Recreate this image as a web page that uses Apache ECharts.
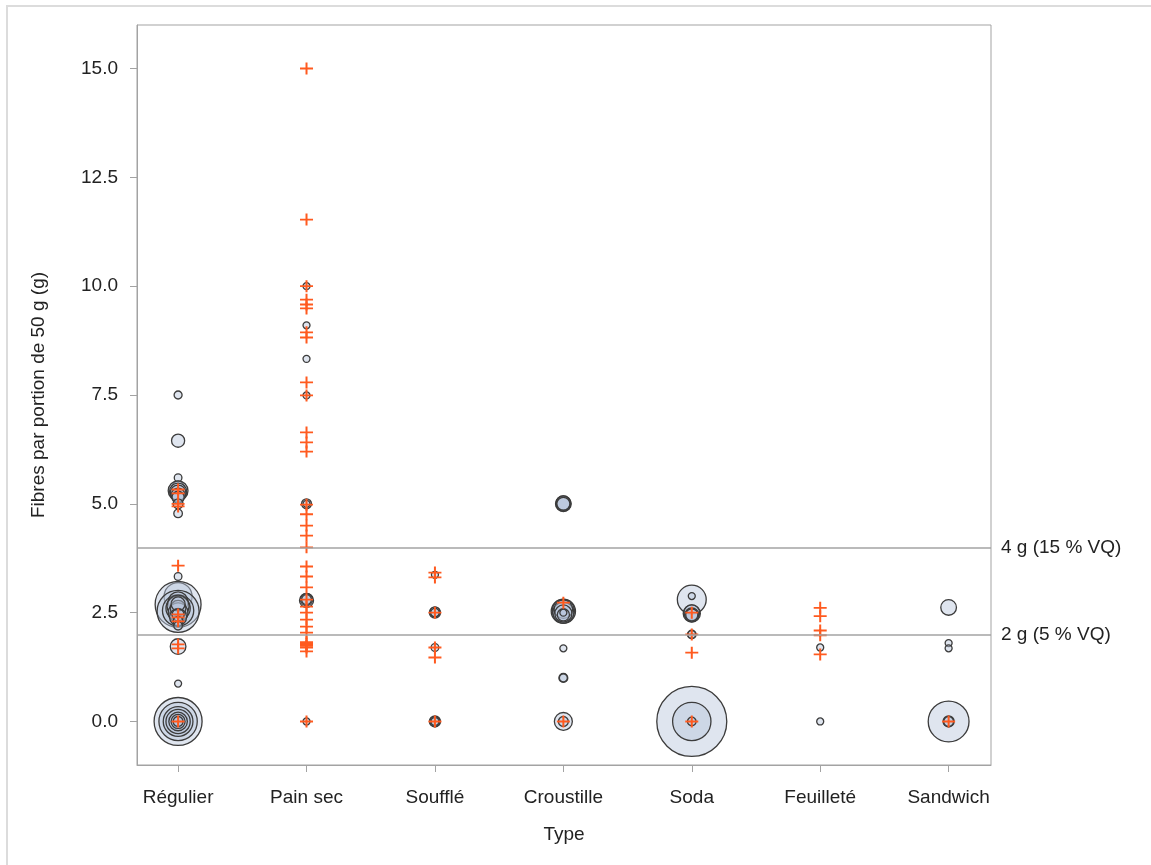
<!DOCTYPE html>
<html>
<head>
<meta charset="utf-8">
<script src="https://cdn.jsdelivr.net/npm/echarts@6/dist/echarts.min.js"></script>
<style>
  html, body { margin: 0; padding: 0; background: #fff; }
  #frame { position: absolute; left: 6px; top: 5px; width: 1160px; height: 880px;
           border-top: 2px solid #dcdcdc; border-left: 2px solid #dcdcdc; }
  #chart { position: absolute; left: 0; top: 0; width: 1151px; height: 865px; }
</style>
</head>
<body>
<div id="frame"></div>
<div id="chart"></div>
<script>
// catégories et graduations
const categories = ["Régulier", "Pain sec", "Soufflé", "Croustille", "Soda", "Feuilleté", "Sandwich"];
const yTicks = [0, 2.5, 5, 7.5, 10, 12.5, 15];
const refLines = [4, 2];
const refLabels = ["4 g (15 % VQ)", "2 g (5 % VQ)"];

// bulles : [fibres, nombre de produits]
const bullesRegulier = [[7.5, 1.3], [6.45, 3.5], [5.6, 1.2], [5.38, 3], [5.3, 8], [5.28, 6], [5.25, 5], [5.2, 4],
  [5.15, 3], [5.0, 2], [4.78, 1.5], [3.33, 1.2], [2.87, 16], [2.69, 43], [2.53, 36], [2.55, 20], [2.75, 8],
  [2.6, 12], [2.65, 10], [2.5, 8], [2.6, 5], [2.4, 6], [2.7, 4], [2.45, 3], [2.3, 2], [2.2, 1.5], [1.72, 5],
  [0.87, 1], [0, 47], [0, 30], [0, 18], [0, 12], [0, 7], [0, 4], [0, 2]];
const bullesPainSec = [[10, 1], [9.1, 1], [8.33, 1], [7.49, 1], [5.0, 2], [5.0, 1], [2.78, 4], [2.8, 3], [2.8, 2], [0, 1]];
const bullesSouffle = [[3.37, 1], [2.5, 2.5], [2.52, 2], [2.5, 1.5], [1.7, 1.2], [0, 2.5], [0, 2], [0, 1.2]];
const bullesCroustille = [[5.0, 5], [5.0, 4.5], [5.02, 4], [5.0, 3.5], [2.53, 12], [2.55, 10], [2.5, 9], [2.58, 7],
  [2.48, 6], [2.45, 3], [2.5, 1], [1.68, 1], [1.0, 1.6], [1.0, 1.3], [0, 6.6], [0, 2]];
const bullesSoda = [[2.8, 17], [2.88, 1], [2.48, 6], [2.5, 5], [2.45, 4], [2.45, 3], [2.0, 1.5], [2.0, 1.2],
  [0, 100], [0, 30], [0, 1.5]];
const bullesFeuillete = [[1.7, 1], [0, 1]];
const bullesSandwich = [[2.62, 5], [1.8, 1], [1.68, 1], [0, 34], [0, 2.5], [0, 2]];

// croix : fibres par produit
const croixRegulier = [5.33, 5.24, 5.0, 4.94, 3.58, 2.46, 2.39, 2.3, 1.77, 1.68, 0];
const croixPainSec = [15, 11.53, 10, 9.69, 9.58, 9.49, 8.94, 8.82, 7.79, 7.49, 6.64, 6.41, 6.2, 4.98, 4.76, 4.5,
  4.27, 4.0, 3.56, 3.33, 3.08, 2.8, 2.64, 2.5, 2.34, 2.18, 2.04, 1.82, 1.78, 1.74, 1.7, 1.61, 0];
const croixSouffle = [3.42, 3.31, 2.5, 1.7, 1.47, 0];
const croixCroustille = [2.73, 0];
const croixSoda = [2.5, 2.0, 1.58, 0];
const croixFeuillete = [2.61, 2.42, 2.09, 1.98, 1.54];
const croixSandwich = [0];

const bulles = [bullesRegulier, bullesPainSec, bullesSouffle, bullesCroustille, bullesSoda, bullesFeuillete, bullesSandwich];
const croix = [croixRegulier, croixPainSec, croixSouffle, croixCroustille, croixSoda, croixFeuillete, croixSandwich];

const bubbleData = [];
bulles.forEach((list, i) => list.forEach(([y, n]) => bubbleData.push([i, y, n])));
const plusData = [];
croix.forEach((list, i) => list.forEach((y) => plusData.push([i, y])));

const FONT = "'Liberation Sans', Arial, sans-serif";
const TXT = "#222";
const GRAY = "#a3a3a3";

const chart = echarts.init(document.getElementById("chart"));
chart.setOption({
  animation: false,
  textStyle: { fontFamily: FONT },
  grid: { left: 137, right: 160, top: 25, bottom: 100, show: true, borderColor: GRAY, borderWidth: 1 },
  xAxis: {
    type: "value", min: -0.32, max: 6.33,
    name: "Type", nameLocation: "middle", nameGap: 60,
    nameTextStyle: { color: TXT, fontSize: 19, fontFamily: FONT },
    axisLine: { show: true, onZero: false, lineStyle: { color: GRAY } },
    axisTick: { show: true, length: 7, lineStyle: { color: GRAY }, customValues: [0, 1, 2, 3, 4, 5, 6] },
    axisLabel: { color: TXT, fontSize: 19, margin: 23, customValues: [0, 1, 2, 3, 4, 5, 6],
      formatter: (v) => categories[Math.round(v)] },
    splitLine: { show: false }
  },
  yAxis: {
    type: "value", min: -1, max: 16,
    name: "Fibres par portion de 50 g (g)", nameLocation: "middle", nameGap: 89,
    nameTextStyle: { color: TXT, fontSize: 19, fontFamily: FONT },
    axisLine: { show: true, onZero: false, lineStyle: { color: GRAY } },
    axisTick: { show: true, length: 7, lineStyle: { color: GRAY }, customValues: yTicks },
    axisLabel: { color: TXT, fontSize: 19, margin: 19, customValues: yTicks, formatter: (v) => v.toFixed(1) },
    splitLine: { show: false }
  },
  series: [
    {
      type: "scatter",
      data: bubbleData,
      symbol: "circle",
      symbolSize: (d) => 7 * Math.sqrt(d[2]),
      itemStyle: { color: "rgba(184,198,220,0.45)", borderColor: "#3c3c3c", borderWidth: 1.3, opacity: 1 },
      z: 2,
      markLine: {
        silent: true, symbol: "none",
        lineStyle: { color: GRAY, width: 1.5, type: "solid" },
        label: { position: "end", distance: 10, color: TXT, fontSize: 19, fontFamily: FONT,
          formatter: (p) => refLabels[p.dataIndex] },
        data: refLines.map((v) => ({ yAxis: v }))
      }
    },
    {
      type: "scatter",
      data: plusData,
      symbol: "path://M0,5.5H13V7.5H0ZM5.5,0H7.5V13H5.5Z",
      symbolSize: [13, 12],
      itemStyle: { color: "#ff5a1f", opacity: 1 },
      z: 3
    }
  ]
});
</script>
</body>
</html>
